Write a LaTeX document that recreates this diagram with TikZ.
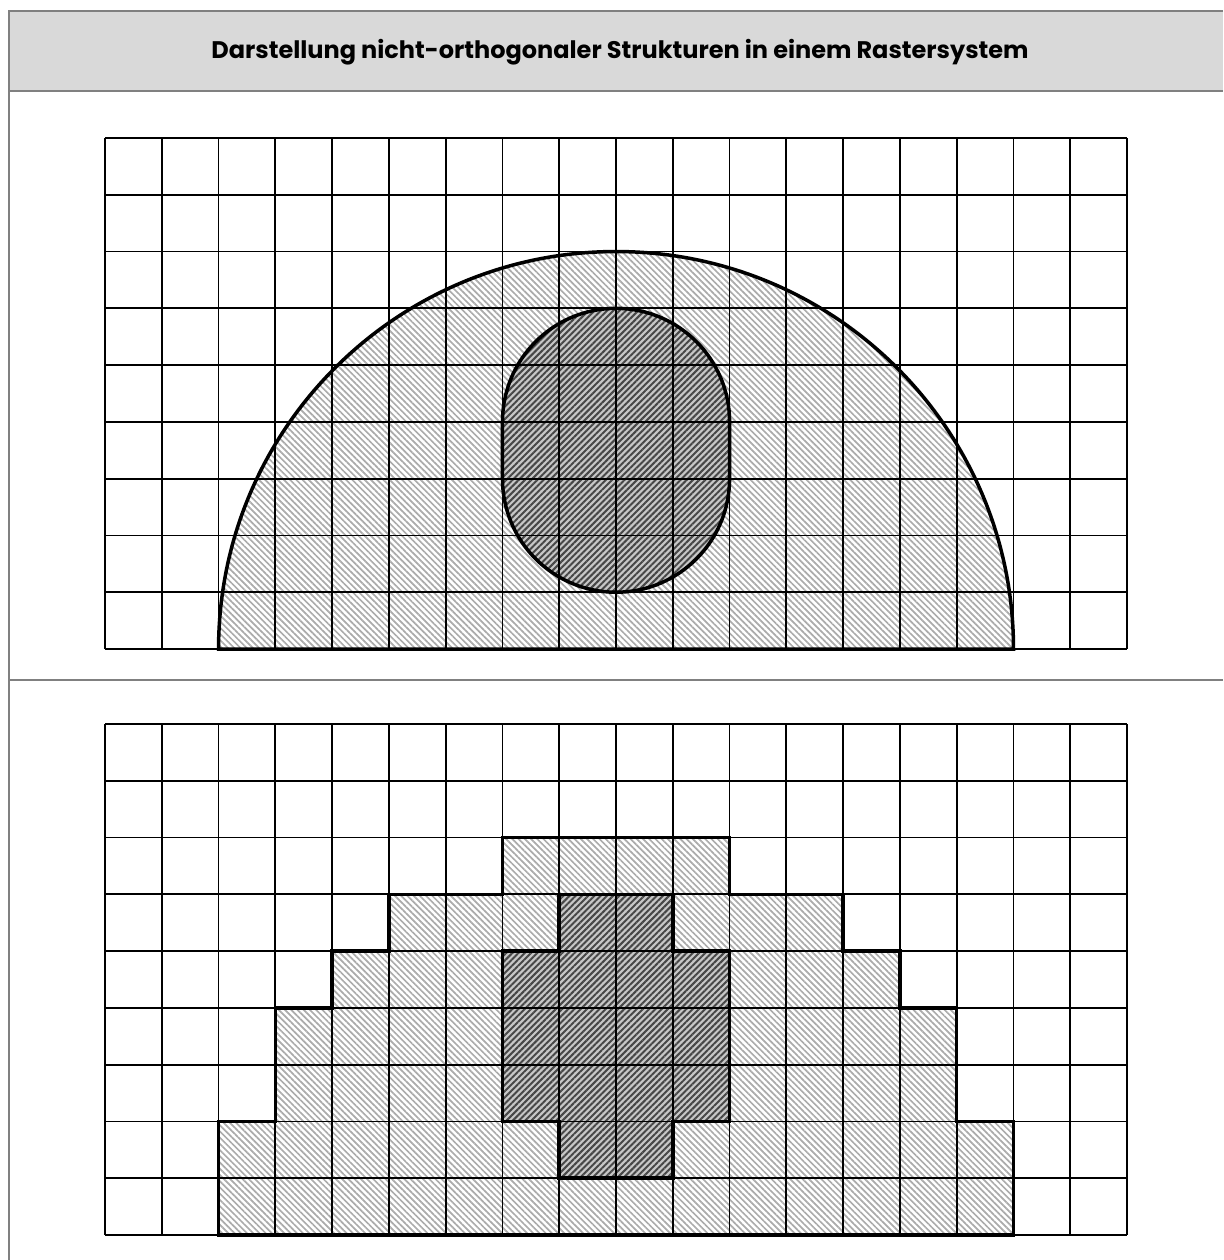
\documentclass[tikz,border=0pt]{standalone}
\usepackage{fontspec}
\setmainfont{Poppins}
\usetikzlibrary{patterns.meta}
\tikzset{
  frameline/.style={draw=black!50, line width=2.5pt},
  rasterline/.style={draw=black, line width=1.8pt},
  outline/.style={draw=black, line width=3.5pt, line join=miter},
  lighthatch/.style={pattern={Lines[angle=-45,distance=4.4pt,line width=1.7pt]}, pattern color=black!33},
  darkhatch/.style={fill=black!22, postaction={pattern={Lines[angle=45,distance=4.4pt,line width=2pt]}, pattern color=black!72}},
  titletext/.style={font=\bfseries\fontsize{24}{28}\selectfont, inner sep=0pt},
}

\begin{document}
\begin{tikzpicture}[x=1pt,y=-1pt]
  \useasboundingbox (0,0) rectangle (1223,1260);
  % table frame
  \fill[black!15] (9,11) rectangle (1223,91);
  \draw[frameline] (1223,11) -- (9,11) -- (9,1260);
  \draw[frameline] (9,91) -- (1223,91);
  \draw[frameline] (9,680) -- (1223,680);
  \node[titletext] (title) at (620,52) {Darstellung nicht-orthogonaler Strukturen in einem Rastersystem};

  % vector shapes on the raster
  \begin{scope}[shift={(105,649)}, x=56.78pt, y=56.78pt]
    \fill[lighthatch] (2,0) arc[start angle=180, end angle=0, radius=7] -- cycle;
    \path[darkhatch] (7,3) -- (7,4) arc[start angle=180, end angle=0, radius=2] -- (11,3) arc[start angle=0, end angle=-180, radius=2] -- cycle;
    \draw[rasterline] (0,0) grid[step=1] (18,9);
    \draw[outline] (2,0) arc[start angle=180, end angle=0, radius=7] -- cycle;
    \draw[outline] (7,3) -- (7,4) arc[start angle=180, end angle=0, radius=2] -- (11,3) arc[start angle=0, end angle=-180, radius=2] -- cycle;
  \end{scope}

  % rasterised shapes
  \begin{scope}[shift={(105,1235)}, x=56.78pt, y=56.78pt]
    \fill[lighthatch] (2,0) -- (2,2) -- (3,2) -- (3,4) -- (4,4) -- (4,5) -- (5,5) -- (5,6) -- (7,6) -- (7,7) -- (11,7) -- (11,6) -- (13,6) -- (13,5) -- (14,5) -- (14,4) -- (15,4) -- (15,2) -- (16,2) -- (16,0) -- cycle;
    \path[darkhatch] (8,1) -- (8,2) -- (7,2) -- (7,5) -- (8,5) -- (8,6) -- (10,6) -- (10,5) -- (11,5) -- (11,2) -- (10,2) -- (10,1) -- cycle;
    \draw[rasterline] (0,0) grid[step=1] (18,9);
    \draw[outline] (2,0) -- (2,2) -- (3,2) -- (3,4) -- (4,4) -- (4,5) -- (5,5) -- (5,6) -- (7,6) -- (7,7) -- (11,7) -- (11,6) -- (13,6) -- (13,5) -- (14,5) -- (14,4) -- (15,4) -- (15,2) -- (16,2) -- (16,0) -- cycle;
    \draw[outline] (8,1) -- (8,2) -- (7,2) -- (7,5) -- (8,5) -- (8,6) -- (10,6) -- (10,5) -- (11,5) -- (11,2) -- (10,2) -- (10,1) -- cycle;
  \end{scope}
\end{tikzpicture}
\end{document}
